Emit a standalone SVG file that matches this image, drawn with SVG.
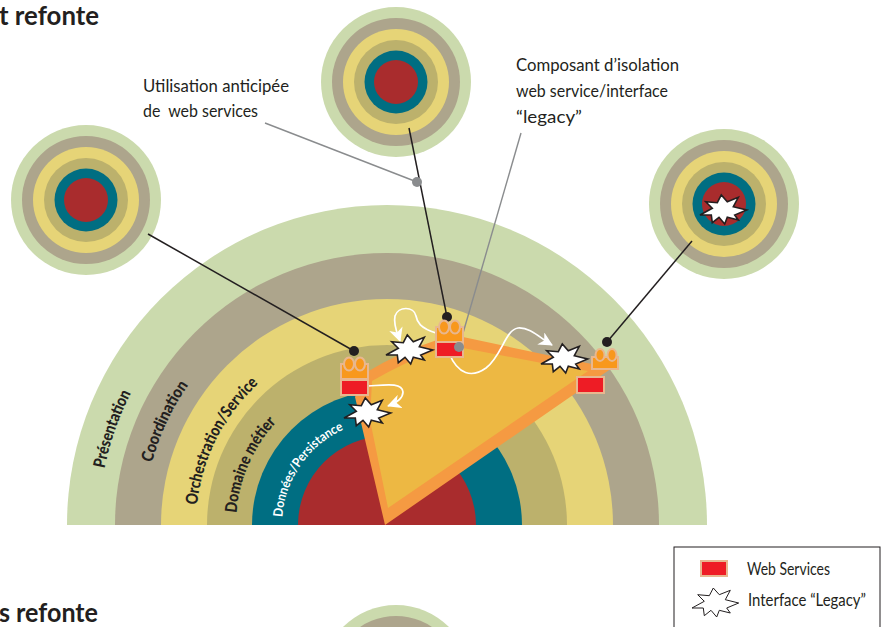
<svg xmlns="http://www.w3.org/2000/svg" width="888" height="627" viewBox="0 0 888 627">
<style>
text{font-family:"Lato","Noto Sans",sans-serif;fill:#231f20}
.t{font-size:18px}
.h{font-size:26px;font-weight:700}
.a{font-size:16.5px;font-weight:900}
.l{font-size:16.5px}
.g{fill:#cbdaad}.c{fill:#ada58c}.y{fill:#e6d477}.o{fill:#bcb16c}.e{fill:#006e82}.r{fill:#a92c2d}
.blk{stroke:#231f20;stroke-width:1.5;fill:none}
.gry{stroke:#8a8c8e;stroke-width:1.4;fill:none}
.wh{stroke:#fff;stroke-width:1.7;fill:none;marker-end:url(#ah)}
.box{fill:#ee1c25;stroke:#e8b78f;stroke-width:2}
.top{fill:#f8981d;stroke:#e8b78f;stroke-width:2}
.star{fill:#fff;stroke:#231f20;stroke-width:1.6;stroke-linejoin:miter}
</style>
<defs>
<marker id="ah" markerUnits="userSpaceOnUse" markerWidth="16" markerHeight="14" refX="13" refY="7" orient="auto"><path d="M0,0L14,7L0,14L4,7Z" fill="#fff"/></marker>
<polygon id="s" points="-21,6 -8.7,-.7 -15.3,-7.3 -3.7,-6.3 .3,-14 6.3,-7.3 17.3,-11.7 12.3,-2.3 25.7,1 13.7,6 17.3,11 6.3,8.3 3.7,15 -2,8.3 -8.7,13.7 -9.7,6"/>
<g id="tgt">
<circle r="75" class="g"/><circle r="64" class="c"/><circle r="53" class="y"/><circle r="42" class="o"/><circle r="31.5" class="e"/><circle r="22" class="r"/>
</g>
<path id="p1" d="M99,525A288,288 0 0 1 675,525"/>
<path id="p2" d="M144,525A243,243 0 0 1 630,525"/>
<path id="p3" d="M196,525A191,191 0 0 1 578,525"/>
<path id="p4" d="M236,525A151,151 0 0 1 538,525"/>
<path id="p5" d="M282,525A105,105 0 0 1 492,525"/>
</defs>
<rect width="888" height="627" fill="#fff"/>
<text class="h" x="-1" y="25" id="title1" textLength="100" lengthAdjust="spacingAndGlyphs">t refonte</text>
<text class="h" x="-1" y="622" id="title2" textLength="99" lengthAdjust="spacingAndGlyphs">s refonte</text>
<g id="target-bottom"><circle cx="396" cy="680" r="75" class="g"/><circle cx="396" cy="680" r="64" class="c"/></g>
<g id="target-left"><use href="#tgt" x="86" y="200"/></g>
<g id="target-top"><use href="#tgt" x="396" y="82"/></g>
<g id="target-right"><use href="#tgt" x="724" y="204"/><use href="#s" class="star" x="721" y="209"/></g>
<g id="layers">
<path class="g" d="M67,525A320,320 0 0 1 707,525Z"/>
<path class="c" d="M115,525A272,272 0 0 1 659,525Z"/>
<path class="y" d="M161,525A226,226 0 0 1 613,525Z"/>
<path class="o" d="M207,525A180,180 0 0 1 567,525Z"/>
<path class="e" d="M252,525A135,135 0 0 1 522,525Z"/>
<path class="r" d="M298,525A89,89 0 0 1 476,525Z"/>
<text class="a"><textPath href="#p1" startOffset="57" textLength="80" lengthAdjust="spacingAndGlyphs">Présentation</textPath></text>
<text class="a"><textPath href="#p2" startOffset="63" textLength="86" lengthAdjust="spacingAndGlyphs">Coordination</textPath></text>
<text class="a"><textPath href="#p3" startOffset="20" textLength="139" lengthAdjust="spacingAndGlyphs">Orchestration/Service</textPath></text>
<text class="a"><textPath href="#p4" startOffset="12" textLength="101" lengthAdjust="spacingAndGlyphs">Domaine métier</textPath></text>
<text class="a" style="fill:#fff;font-size:13px;font-weight:700"><textPath href="#p5" startOffset="8" textLength="112" lengthAdjust="spacingAndGlyphs">Données/Persistance</textPath></text>
</g>
<g id="triangle">
<path fill="#f59a42" d="M385,525L355,397L367,372Q400,352 437,340L463,337L547,355L612,368Z"/>
<path fill="#edb843" d="M388,508L370,420L372,381Q405,362 437,350L463,348L547,364L588,371Z"/>
</g>
<g id="connectors">
<path class="blk" d="M148,234L354,351"/>
<path class="blk" d="M409,128L447,317"/>
<path class="blk" d="M692,241L607,342"/>
<path class="gry" d="M265,123L417,182"/>
<path class="gry" d="M521,133L459,347"/>
<path class="wh" d="M436,333C420,328 417,322 416,316C414,306 398,306 395,316C393,325 398,335 400,341"/>
<path class="wh" d="M449,353C458,375 472,378 486,368C502,356 505,330 518,328C530,327 540,338 552,345"/>
<path class="wh" d="M368,386C385,385 402,382 403,392C403,398 396,403 388,406"/>
<circle cx="417" cy="182" r="5" fill="#8a8c8e"/>
</g>
<g id="node-left">
<circle cx="354" cy="351" r="5" fill="#231f20"/>
<rect x="341" y="364" width="27" height="15" class="top"/>
<ellipse cx="349" cy="364" rx="5" ry="6.5" class="top"/><ellipse cx="360" cy="364" rx="5" ry="6.5" class="top"/>
<rect x="341" y="380" width="27" height="15" class="box"/>
</g>
<g id="node-mid">
<circle cx="447" cy="317" r="5" fill="#231f20"/>
<rect x="436" y="327" width="27" height="15" class="top"/>
<ellipse cx="444" cy="327" rx="5" ry="6.5" class="top"/><ellipse cx="455" cy="327" rx="5" ry="6.5" class="top"/>
<rect x="436" y="342" width="27" height="15" class="box"/>
<circle cx="459" cy="347" r="5" fill="#8a8c8e"/>
</g>
<g id="node-right">
<circle cx="607" cy="342" r="5" fill="#231f20"/>
<rect x="592" y="357" width="26" height="12" class="top"/>
<ellipse cx="600" cy="355" rx="4.5" ry="6" class="top"/><ellipse cx="612" cy="355" rx="4.5" ry="6" class="top"/>
<rect x="577" y="377" width="27" height="16" class="box"/>
</g>
<g id="stars">
<use href="#s" class="star" x="407" y="349"/>
<use href="#s" class="star" x="562" y="358"/>
<use href="#s" class="star" x="365" y="412"/>
</g>
<g id="labels">
<text class="t" x="143" y="92" textLength="146" lengthAdjust="spacingAndGlyphs">Utilisation anticipée</text>
<text class="t" x="143" y="117" textLength="115" lengthAdjust="spacingAndGlyphs" xml:space="preserve">de  web services</text>
<text class="t" x="516" y="71" textLength="163" lengthAdjust="spacingAndGlyphs">Composant d’isolation</text>
<text class="t" x="516" y="97" textLength="152" lengthAdjust="spacingAndGlyphs">web service/interface</text>
<text class="t" x="516" y="123" textLength="66" lengthAdjust="spacingAndGlyphs">“legacy”</text>
</g>
<g id="legend">
<rect x="674" y="547" width="206" height="90" fill="#fff" stroke="#231f20" stroke-width="1"/>
<rect x="701" y="561" width="26" height="15" class="box"/>
<text class="l" x="747" y="575" textLength="83" lengthAdjust="spacingAndGlyphs">Web Services</text>
<use href="#s" x="713" y="602" fill="#fff" stroke="#231f20" stroke-width="1"/>
<text class="l" x="748" y="606" textLength="118" lengthAdjust="spacingAndGlyphs">Interface “Legacy”</text>
</g>
</svg>
